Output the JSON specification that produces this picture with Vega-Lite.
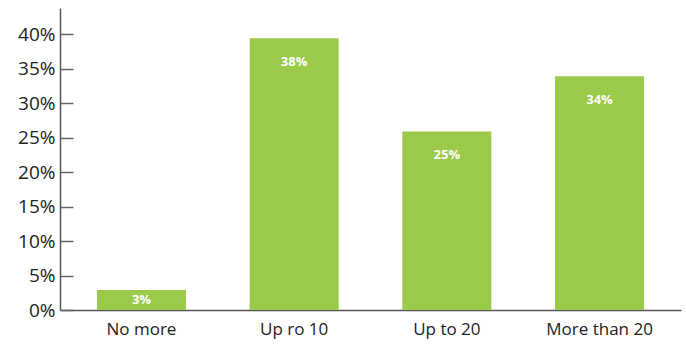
{
  "$schema": "https://vega.github.io/schema/vega-lite/v6.json",
  "autosize": "none",
  "padding": {"left": 60, "top": 8, "right": 5, "bottom": 35},
  "width": 621,
  "height": 302,
  "background": "white",
  "data": {"values": [
    {"category": "No more", "value": 0.029, "label": "3%"},
    {"category": "Up ro 10", "value": 0.394, "label": "38%"},
    {"category": "Up to 20", "value": 0.259, "label": "25%"},
    {"category": "More than 20", "value": 0.339, "label": "34%"}
  ]},
  "config": {"view": {"stroke": null}, "font": "Open Sans"},
  "encoding": {
    "x": {"field": "category", "type": "nominal", "sort": null,
      "scale": {"paddingInner": 0.417, "paddingOuter": 0.242},
      "axis": {"title": null, "labelAngle": 0, "ticks": false, "labelFontSize": 17, "labelColor": "#222", "labelPadding": 11, "domainColor": "#555", "domainWidth": 1.5}},
    "y": {"field": "value", "type": "quantitative",
      "scale": {"domain": [0, 0.438], "nice": false},
      "axis": {"title": null, "format": ".0%", "values": [0, 0.05, 0.1, 0.15, 0.2, 0.25, 0.3, 0.35, 0.4], "grid": false, "tickSize": -13, "tickColor": "#666", "tickWidth": 1.5, "domainColor": "#555", "domainWidth": 1.5, "labelFontSize": 19, "labelColor": "#222", "labelPadding": 18}}
  },
  "layer": [
    {"mark": {"type": "bar", "color": "#9BC94A"}},
    {"transform": [{"filter": "datum.value > 0.1"}],
     "mark": {"type": "text", "color": "white", "fontWeight": "bold", "fontSize": 13, "baseline": "middle", "dy": 24},
     "encoding": {"text": {"field": "label"}}},
    {"transform": [{"filter": "datum.value <= 0.1"}],
     "mark": {"type": "text", "color": "white", "fontWeight": "bold", "fontSize": 13, "baseline": "middle", "dy": 10},
     "encoding": {"text": {"field": "label"}}}
  ]
}
